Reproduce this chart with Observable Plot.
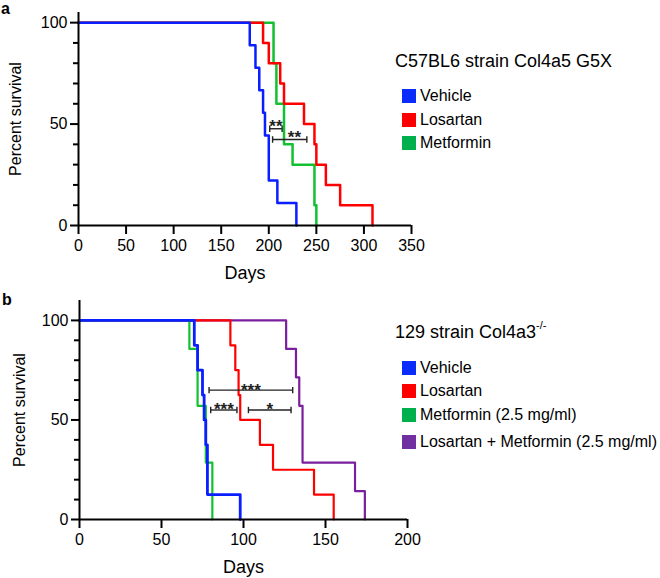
<!DOCTYPE html>
<html>
<head>
<meta charset="utf-8">
<script src="https://cdn.jsdelivr.net/npm/d3@7"></script>
<script src="https://cdn.jsdelivr.net/npm/@observablehq/plot@0.6"></script>
<style>
  body { margin: 0; background: #fff; font-family: "Liberation Sans", Arial, sans-serif; }
  #fig { position: relative; width: 660px; height: 578px; overflow: hidden; background: #fff; }
  #fig svg { position: absolute; left: 0; }
  .lbl { position: absolute; font-weight: bold; font-size: 16px; color: #000; }
  .title { position: absolute; font-size: 18px; color: #000; white-space: nowrap; }
  .title sup { font-size: 11px; position: relative; top: -2px; }
  .leg { position: absolute; font-size: 16px; color: #000; white-space: nowrap; }
  .leg .row { position: absolute; left: 0; display: flex; align-items: center; height: 20px; }
  .leg .sw { width: 14px; height: 14px; margin-right: 4px; }
</style>
</head>
<body>
<div id="fig"></div>
<script>
// ---------- Panel a: C57BL6 strain Col4a5 G5X ----------
const aSeries = ["Vehicle", "Losartan", "Metformin"];
const aVehicleDays = [0, 180, 186, 190, 194, 196, 200, 209, 229];
const aVehicleSurv = [100, 88.9, 77.8, 66.7, 55.6, 44.4, 22.2, 11.1, 0];
const aLosartanDays = [0, 194, 200, 212, 216, 237, 248, 250, 260, 275, 309];
const aLosartanSurv = [100, 90, 80, 70, 60, 50, 40, 30, 20, 10, 0];
const aMetforminDays = [0, 205, 208, 216, 225, 248, 250];
const aMetforminSurv = [100, 80, 60, 40, 30, 10, 0];
const aXTicks = [0, 50, 100, 150, 200, 250, 300, 350];
const aYTicks = [0, 50, 100];
const aYMinor = [10, 20, 30, 40, 60, 70, 80, 90];
// significance brackets
const aSigX1 = [201, 204];
const aSigX2 = [214, 240];
const aSigY = [47.7, 42.4];
const aSigLabelX = [207.5, 227];
const aSigLabel = ["**", "**"];

// ---------- Panel b: 129 strain Col4a3-/- ----------
const bSeries = ["Vehicle", "Losartan", "Metformin (2.5 mg/ml)", "Losartan + Metformin (2.5 mg/ml)"];
const bVehicleDays = [0, 70, 72, 75, 76, 77, 78, 98];
const bVehicleSurv = [100, 87.5, 75, 62.5, 50, 37.5, 12.5, 0];
const bLosartanDays = [0, 92, 95, 97, 98, 110, 118, 143, 155];
const bLosartanSurv = [100, 87.5, 75, 62.5, 50, 37.5, 25, 12.5, 0];
const bMetforminDays = [0, 67, 72, 77, 81];
const bMetforminSurv = [100, 85.7, 57.1, 28.6, 0];
const bComboDays = [0, 126, 132, 134, 136, 168, 174];
const bComboSurv = [100, 85.7, 71.4, 57.1, 28.6, 14.3, 0];
const bXTicks = [0, 50, 100, 150, 200];
const bYTicks = [0, 50, 100];
const bYMinor = [10, 20, 30, 40, 60, 70, 80, 90];
const bSigX1 = [79, 80, 103];
const bSigX2 = [130, 96, 129];
const bSigY = [65, 55, 55];
const bSigLabelX = [104.5, 88, 116];
const bSigLabel = ["***", "***", "*"];

const colors = {
  "Vehicle": "#0a1eff",
  "Losartan": "#ff0000",
  "Metformin": "#12c032",
  "Metformin (2.5 mg/ml)": "#12c032",
  "Losartan + Metformin (2.5 mg/ml)": "#7a1f9e"
};
const swatch = {
  "Vehicle": "#0a2cff",
  "Losartan": "#ff0000",
  "Metformin": "#00b04c",
  "Metformin (2.5 mg/ml)": "#00b04c",
  "Losartan + Metformin (2.5 mg/ml)": "#7030a0"
};

function series(name, days, surv) {
  return days.map((d, i) => ({series: name, day: d, surv: surv[i]}));
}
function brackets(x1, x2, y, lx, lab) {
  return x1.map((v, i) => ({x1: v, x2: x2[i], y: y[i], lx: lx[i], label: lab[i]}));
}

const font = "'Liberation Sans', Arial, Helvetica, sans-serif";

function panel({width, height, mL, mR, mT, mB, xDomain, yDomain, xTicks, yTicks, yMinor, lines, sig, yLabelDx, starDy, capH}) {
  const marks = [];
  for (const l of lines) {
    marks.push(Plot.line(l.data, {x: "day", y: "surv", curve: "step-after", stroke: colors[l.name], strokeWidth: l.w}));
  }
  // brackets
  marks.push(Plot.link(sig, {x1: "x1", x2: "x2", y1: "y", y2: "y", stroke: "#222", strokeWidth: 1.4}));
  marks.push(Plot.link(sig, {x1: "x1", x2: "x1", y1: d => d.y - capH, y2: d => d.y + capH, stroke: "#222", strokeWidth: 1.4}));
  marks.push(Plot.link(sig, {x1: "x2", x2: "x2", y1: d => d.y - capH, y2: d => d.y + capH, stroke: "#222", strokeWidth: 1.4}));
  marks.push(Plot.text(sig, {x: "lx", y: "y", text: "label", fontSize: 17, fontWeight: "bold", dy: starDy, fill: "#222"}));
  // axes
  marks.push(Plot.ruleY([0], {stroke: "#000", strokeWidth: 2}));
  marks.push(Plot.ruleX([0], {y1: yDomain[0], y2: yDomain[1], stroke: "#000", strokeWidth: 2}));
  marks.push(Plot.axisX({ticks: xTicks, tickSize: 9, tickPadding: 5, strokeWidth: 2, label: null, fontSize: 16}));
  marks.push(Plot.axisY({ticks: yTicks, tickSize: 8, tickPadding: 3, strokeWidth: 2, label: null, fontSize: 16}));
  marks.push(Plot.axisY({ticks: yMinor, tickSize: 5, strokeWidth: 2, label: null, tickFormat: () => ""}));
  marks.push(Plot.text(["Days"], {frameAnchor: "bottom", lineAnchor: "middle", textAnchor: "middle", dy: 48, fontSize: 18, fill: "#000"}));
  marks.push(Plot.text(["Percent survival"], {frameAnchor: "left", textAnchor: "middle", lineAnchor: "middle", dx: yLabelDx, rotate: -90, fontSize: 16, fill: "#000"}));
  return Plot.plot({
    width, height,
    marginLeft: mL, marginRight: mR, marginTop: mT, marginBottom: mB,
    x: {domain: xDomain},
    y: {domain: yDomain},
    style: {fontFamily: font, fontSize: "16px", color: "#000", background: "transparent", overflow: "visible"},
    marks
  });
}

const fig = document.getElementById("fig");

const svgA = panel({
  width: 660, height: 290, mL: 78, mR: 249, mT: 12, mB: 65,
  xDomain: [0, 350], yDomain: [0, 105], xTicks: aXTicks, yTicks: aYTicks, yMinor: aYMinor,
  lines: [
    {name: "Metformin", data: series("Metformin", aMetforminDays, aMetforminSurv), w: 2.5},
    {name: "Losartan", data: series("Losartan", aLosartanDays, aLosartanSurv), w: 2.5},
    {name: "Vehicle", data: series("Vehicle", aVehicleDays, aVehicleSurv), w: 2.5}
  ],
  sig: brackets(aSigX1, aSigX2, aSigY, aSigLabelX, aSigLabel),
  yLabelDx: -63, starDy: -2, capH: 1.6
});
svgA.style.top = "0px";
fig.appendChild(svgA);

const svgB = panel({
  width: 660, height: 288, mL: 79, mR: 253, mT: 10, mB: 59,
  xDomain: [0, 200], yDomain: [0, 110], xTicks: bXTicks, yTicks: bYTicks, yMinor: bYMinor,
  lines: [
    {name: "Losartan + Metformin (2.5 mg/ml)", data: series("combo", bComboDays, bComboSurv), w: 2.2},
    {name: "Losartan", data: series("Losartan", bLosartanDays, bLosartanSurv), w: 2.2},
    {name: "Metformin (2.5 mg/ml)", data: series("Metformin", bMetforminDays, bMetforminSurv), w: 2.2},
    {name: "Vehicle", data: series("Vehicle", bVehicleDays, bVehicleSurv), w: 2.8}
  ],
  sig: brackets(bSigX1, bSigX2, bSigY, bSigLabelX, bSigLabel),
  yLabelDx: -60, starDy: 0, capH: 1.6
});
svgB.style.top = "290px";
fig.appendChild(svgB);

// panel letters
function addDiv(cls, html, left, top) {
  const d = document.createElement("div");
  d.className = cls;
  d.innerHTML = html;
  d.style.left = left + "px";
  d.style.top = top + "px";
  fig.appendChild(d);
  return d;
}
addDiv("lbl", "a", 1, 0);
addDiv("lbl", "b", 2, 291);

addDiv("title", "C57BL6 strain Col4a5 G5X", 395, 51);
addDiv("title", "129 strain Col4a3<sup>-/-</sup>", 395, 321);

function legend(names, left, top, rowTops) {
  const box = addDiv("leg", "", left, top);
  names.forEach((n, i) => {
    const r = document.createElement("div");
    r.className = "row";
    r.style.top = rowTops[i] + "px";
    const s = document.createElement("div");
    s.className = "sw";
    s.style.background = swatch[n];
    const t = document.createElement("span");
    t.textContent = n;
    r.appendChild(s);
    r.appendChild(t);
    box.appendChild(r);
  });
}
legend(aSeries, 402, 86, [0, 23.5, 47]);
legend(bSeries, 402, 358, [0, 22.5, 47, 74]);
</script>
</body>
</html>
